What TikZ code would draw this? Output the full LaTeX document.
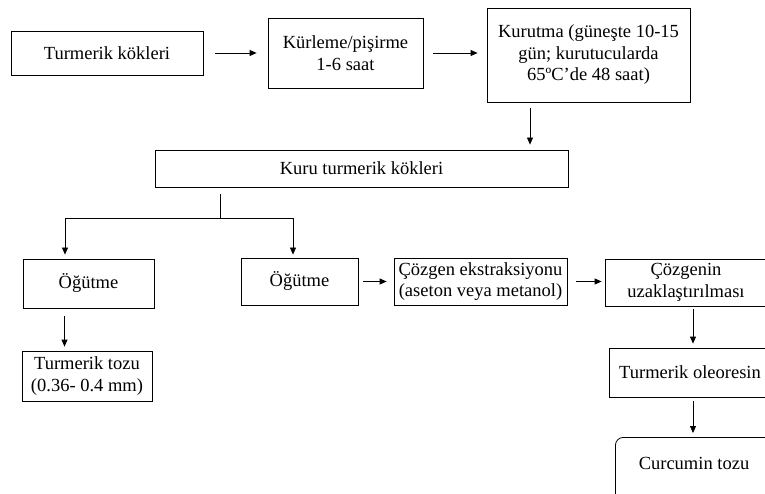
\documentclass[tikz,border=0pt]{standalone}
\usepackage{fontspec}
\setmainfont{Liberation Serif}
\usetikzlibrary{arrows.meta}
\usetikzlibrary{positioning}

\begin{document}
\begin{tikzpicture}[x=1pt, y=-1pt,
    stepbox/.style={draw, line width=0.8pt, align=center, inner sep=0pt,
      font=\fontsize{18.5}{21.5}\selectfont},
    arr/.style={-{Triangle[length=7pt,width=6pt]}, line width=0.8pt}]
  \useasboundingbox (0,0) rectangle (765,494);

    % top row
    \node[stepbox, minimum width=192, minimum height=44] (tk) at (107,53) {Turmerik kökleri};
    \node[stepbox, minimum width=155, minimum height=70] (kp) at (345.5,53) {Kürleme/pişirme\\1-6 saat};
    \node[stepbox, minimum width=203, minimum height=94] (km) at (588.5,55) {Kurutma (güneşte 10-15\\gün; kurutucularda\\65ºC’de 48 saat)};

    \node[stepbox, minimum width=413, minimum height=37] (kuru) at (361.5,168.5) {Kuru turmerik kökleri};

    % left branch
    \node[stepbox, minimum width=131, minimum height=49] (og1) at (88.5,283.5) {Öğütme};
    \node[stepbox, minimum width=130, minimum height=50] (tozu) at (87,376) {Turmerik tozu\\(0.36- 0.4 mm)};

    % right branch
    \node[stepbox, minimum width=117, minimum height=47] (og2) at (299.5,281.5) {Öğütme};
    \node[stepbox, minimum width=173, minimum height=47] (ekst) at (480.5,281.5) {Çözgen ekstraksiyonu\\(aseton veya metanol)};
    \node[stepbox, minimum width=162, minimum height=47] (cozg) at (686,282.5) {Çözgenin\\uzaklaştırılması};
    \node[stepbox, minimum width=162, minimum height=49] (oleo) at (690,372.5) {Turmerik oleoresin};
    \node[stepbox, rounded corners=8pt, minimum width=160, minimum height=70, anchor=north west] (curc) at (615,437) {};
    \node[font=\fontsize{18.5}{21.5}\selectfont, inner sep=0pt] (curctxt) at (694,463) {Curcumin tozu};

    \draw[arr, shorten <=12pt, shorten >=11pt] (tk.east) -- (kp.west);
    \draw[arr, shorten <=10pt, shorten >=9pt] (kp.east) -- (kp.east -| km.west);
    \draw[arr, shorten <=6pt, shorten >=5pt] ([xshift=-58.5pt]km.south) -- ([xshift=-58.5pt]km.south |- kuru.north);

    \coordinate (split) at (220,218);
    \draw[line width=0.8pt, shorten <=7pt] (kuru.south -| split) -- (split);
    \draw[arr, shorten >=4pt] (split) -| ([xshift=-23.5pt]og1.north);
    \draw[arr, shorten >=3pt] (split) -| ([xshift=-6.5pt]og2.north);
    \draw[arr, shorten <=8pt, shorten >=4pt] ([xshift=-24pt]og1.south) -- ([xshift=-24pt]og1.south |- tozu.north);

    \draw[arr, shorten <=5pt, shorten >=7pt] (og2.east) -- (ekst.west);
    \draw[arr, shorten <=9pt, shorten >=3pt] (ekst.east) -- (ekst.east -| cozg.west);
    \draw[arr, shorten <=3pt, shorten >=4pt] ([xshift=7pt]cozg.south) -- ([xshift=7pt]cozg.south |- oleo.north);
    \draw[arr, shorten <=4pt, shorten >=4pt] ([xshift=3pt]oleo.south) -- ([xshift=3pt]oleo.south |- curc.north);
\end{tikzpicture}
\end{document}
